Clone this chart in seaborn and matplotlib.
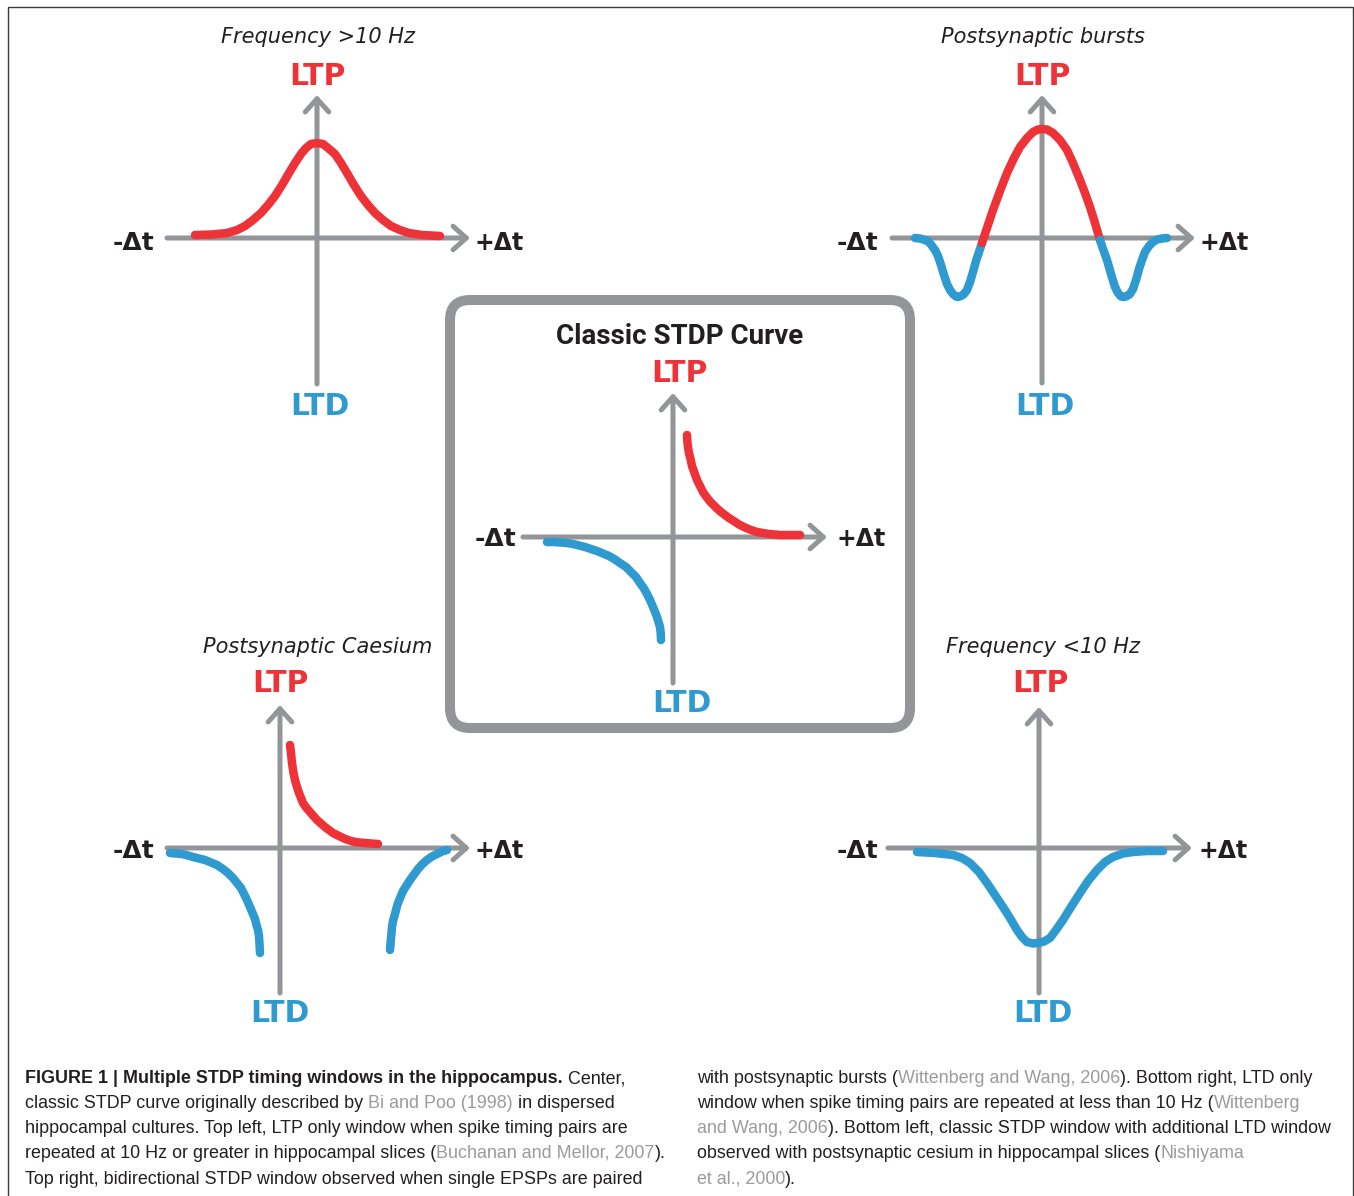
import matplotlib
matplotlib.use("Agg")
import matplotlib.pyplot as plt
import seaborn as sns
from matplotlib.patches import FancyBboxPatch, Rectangle
from matplotlib import font_manager

W, H = 1354, 1196
sns.set_theme(style="white")
plt.rcParams["font.family"] = ["DejaVu Sans"]

RED = "#EE3338"
BLUE = "#2F9AD0"
GRAY = "#939598"
INK = "#231F20"
CITE = "#9B9B9B"

# ---------------- data (Δt, weight change) ----------------
tl_dt = [-122, -105, -90, -80, -72, -64, -56, -49, -42, -35, -28, -22, -16, -11, -6, 0,
         6, 11, 18, 24, 30, 37, 44, 51, 58, 66, 74, 83, 92, 105, 123]
tl_w = [3, 3.5, 5, 8, 12, 18, 25, 33, 42, 53, 65, 75, 84, 90, 94, 95,
        94, 90, 84, 75, 65, 53, 42, 33, 25, 18, 12, 8, 5, 3, 2]

tr_ltd1_dt = [-127, -122, -117, -113, -110, -107, -104, -101, -98, -95, -92, -89, -86, -84,
              -81, -78, -75, -72, -69, -66, -63, -60]
tr_ltd1_w = [0, -0.5, -2, -4, -8, -12, -18, -27, -37, -46, -52, -56, -58.5, -59,
             -58, -56, -52, -44, -34, -23, -14, -5]
tr_ltp_dt = [-60, -55, -49, -42, -35, -28, -22, -15, -9, -4, 0, 5, 11, 18, 25, 31, 38, 43, 48, 53, 58]
tr_ltp_w = [-5, 10, 28, 47, 65, 80, 91, 100, 106, 108.5, 109, 108.5, 105, 98, 88, 75, 58, 45, 31, 15, -2]
tr_ltd2_dt = [58, 61, 65, 69, 73, 76, 79, 82, 85, 88, 91, 94, 97, 100, 103, 107, 111, 115, 120, 125]
tr_ltd2_w = [-2, -11, -22, -36, -49, -55, -58.5, -59, -58, -56, -51, -42, -31, -22, -14, -8, -4, -1.5, -0.5, 0]

c_ltp_dt = [14, 14.3, 15, 16, 17.5, 19, 21.5, 24, 27, 30, 33.5, 37, 40.5, 44, 48, 52, 56, 60,
            66, 72, 78, 84, 90, 96, 102, 107, 117, 127]
c_ltp_w = [102, 96, 90, 84, 78, 71, 64, 57, 51, 45, 40, 35.5, 32, 28.5, 25, 22, 19, 16.5,
           12.5, 9.5, 7, 5, 4, 3, 2.5, 2, 2, 2]
c_ltd_dt = [-126, -120, -113, -106, -100, -94, -88, -82, -76, -70, -64, -58, -53, -47, -42,
            -37, -33, -29, -26, -23, -20, -18, -16, -14.5, -13, -12.3, -12]
c_ltd_w = [-5, -5, -5.5, -6, -7, -8.5, -10, -12, -14, -16.5, -19, -22.5, -26, -30, -35,
           -40, -46, -51.5, -57, -63, -70, -75, -80, -85, -90, -96, -103]

bl_ltp_dt = [10, 10.5, 11, 12, 13.5, 15, 17, 19, 21, 23, 26.5, 30, 33.5, 37, 41, 45, 49, 53,
             58, 63, 68, 73, 79, 85, 91, 98]
bl_ltp_w = [103, 99, 95, 85, 75, 68, 61, 55, 50, 45, 40, 36, 32, 28, 24.5, 21, 18, 15,
            12.5, 10, 8, 6.5, 5.5, 5, 4.5, 4]
bl_ltd1_dt = [-110, -104, -98, -92, -87, -81, -75, -69, -63, -57, -52, -47, -43, -39, -36, -33,
              -30, -27.5, -25, -23.5, -22, -21, -20.5, -20]
bl_ltd1_w = [-5, -5.5, -6, -7.5, -9, -10.5, -12, -14.5, -17, -21, -25, -30, -35, -40, -46, -52,
             -59, -65, -71, -77, -82, -88, -96, -105]
bl_ltd2_dt = [110, 110.5, 111, 111.5, 112, 113, 115, 116.5, 118, 120.5, 123, 126.5, 130, 134,
              138, 142.5, 147, 152, 157, 162, 167]
bl_ltd2_w = [-102, -96, -90, -85, -79, -73, -66, -60, -55, -49, -43, -37.5, -32, -26.5,
             -21, -16, -12, -8.5, -6, -3.5, -2]

br_dt = [-122, -104, -86, -77, -69, -60, -52, -44, -36, -29, -22, -17, -12, -6, -1, 5, 11,
         17, 24, 32, 41, 49, 58, 66, 74, 84, 94, 108, 124]
br_w = [-4, -5, -7, -10, -15, -24, -35, -47, -59, -70, -82, -89, -94, -95.5, -95, -93.5, -90,
        -82, -72, -59, -45, -33, -22, -14, -9, -5.5, -4, -3, -3]

panel_titles = ["Frequency >10 Hz", "Postsynaptic bursts", "Classic STDP Curve",
                "Postsynaptic Caesium", "Frequency <10 Hz"]
ltp_label, ltd_label = "LTP", "LTD"
neg_label, pos_label = "-\u0394t", "+\u0394t"

curves = {
    "tl": [(tl_dt, tl_w, RED)],
    "tr": [(tr_ltd1_dt, tr_ltd1_w, BLUE), (tr_ltp_dt, tr_ltp_w, RED), (tr_ltd2_dt, tr_ltd2_w, BLUE)],
    "c": [(c_ltp_dt, c_ltp_w, RED), (c_ltd_dt, c_ltd_w, BLUE)],
    "bl": [(bl_ltp_dt, bl_ltp_w, RED), (bl_ltd1_dt, bl_ltd1_w, BLUE), (bl_ltd2_dt, bl_ltd2_w, BLUE)],
    "br": [(br_dt, br_w, BLUE)],
}

# ---------------- layout (pixel origins, extents, label offsets) ----------------
layout = [
    dict(key="tl", origin=(317, 238), h=(-150, 153), v=(-146, 143), title=(1, 201),
         ltp=(0, 161), ltd=(3, -169), neg=(-184, -5), pos=(182, -5)),
    dict(key="tr", origin=(1042, 238), h=(-150, 153), v=(-145, 143), title=(1, 201),
         ltp=(0, 161), ltd=(3, -169), neg=(-184, -5), pos=(182, -5)),
    dict(key="c", origin=(673, 537), h=(-150, 154), v=(-146, 144), title=(7, 201),
         ltp=(6, 164), ltd=(9, -166), neg=(-178, -2), pos=(188, -2)),
    dict(key="bl", origin=(280, 848), h=(-113, 190), v=(-145, 143), title=(38, 201),
         ltp=(0, 164), ltd=(0, -166), neg=(-147, -3), pos=(219, -3)),
    dict(key="br", origin=(1039, 848), h=(-151, 153), v=(-145, 141), title=(4, 201),
         ltp=(1, 164), ltd=(4, -166), neg=(-182, -3), pos=(184, -3)),
]

DPI = 100
fig = plt.figure(figsize=(W / DPI, H / DPI), dpi=DPI)
fig.patch.set_facecolor("white")

R = 260
PX = 0.72  # points per pixel at 100 dpi

for i, L in enumerate(layout):
    ox, oy = L["origin"]
    ax = fig.add_axes([(ox - R) / W, (H - oy - R) / H, 2 * R / W, 2 * R / H])
    ax.set_xlim(-R, R)
    ax.set_ylim(-R, R)
    ax.set_axis_off()
    ax.patch.set_alpha(0)

    arrow_kw = dict(arrowstyle="->,head_length=0.95,head_width=0.85", color=GRAY,
                    lw=5 * PX, shrinkA=0, shrinkB=0, mutation_scale=10, capstyle="round")
    ax.annotate("", xy=(L["h"][1], 0), xytext=(L["h"][0], 0), arrowprops=arrow_kw, zorder=1)
    ax.annotate("", xy=(0, L["v"][1]), xytext=(0, L["v"][0]), arrowprops=arrow_kw, zorder=1)

    for dt, w, col in curves[L["key"]]:
        sns.lineplot(x=dt, y=w, ax=ax, sort=False, estimator=None, color=col,
                     linewidth=8.5 * PX, solid_capstyle="round", solid_joinstyle="round", zorder=3)

    if L["key"] == "c":
        box = FancyBboxPatch((-223, -191), 460, 428, boxstyle="round,pad=0,rounding_size=20",
                             linewidth=10 * PX, edgecolor=GRAY, facecolor="none", zorder=0)
        ax.add_patch(box)
        ax.text(*L["title"], panel_titles[i], ha="center", va="center", fontsize=20,
                fontweight="bold", family=["Roboto", "DejaVu Sans"], color=INK)
    else:
        ax.text(*L["title"], panel_titles[i], ha="center", va="center", fontsize=15,
                style="italic", color=INK)

    ax.text(*L["ltp"], ltp_label, ha="center", va="center", fontsize=21.5,
            fontweight="bold", color=RED)
    ax.text(*L["ltd"], ltd_label, ha="center", va="center", fontsize=21.5,
            fontweight="bold", color=BLUE)
    ax.text(*L["neg"], neg_label, ha="center", va="center", fontsize=18,
            fontweight="bold", color=INK)
    ax.text(*L["pos"], pos_label, ha="center", va="center", fontsize=17,
            fontweight="bold", color=INK)

# frame line
fig.add_artist(Rectangle((8 / W, -0.02), (1353 - 8) / W, (H - 7) / H + 0.02,
                         transform=fig.transFigure, fill=False, edgecolor="#3A3A3A", lw=1.0))

# ---------------- caption ----------------
def pick_family():
    for fam in ["Liberation Sans Narrow", "Liberation Sans"]:
        try:
            font_manager.findfont(font_manager.FontProperties(family=fam), fallback_to_default=False)
            return fam
        except Exception:
            pass
    return "DejaVu Sans"

CAP_FAM = pick_family()
renderer = fig.canvas.get_renderer()

def text_width(s, size, weight):
    t1 = fig.text(0, 0, "a" + s + "a", fontsize=size, fontweight=weight, family=CAP_FAM)
    t2 = fig.text(0, 0, "aa", fontsize=size, fontweight=weight, family=CAP_FAM)
    wdt = t1.get_window_extent(renderer).width - t2.get_window_extent(renderer).width
    t1.remove(); t2.remove()
    return wdt

ref_line = "hippocampal cultures. Top left, LTP only window when spike timing pairs are"
CAP_SIZE = 12 * 603 / text_width(ref_line, 12, "normal")

left_col = [
    [("FIGURE 1 | Multiple STDP timing windows in the hippocampus.", INK, "bold"), (" Center,", INK, "normal")],
    [("classic STDP curve originally described by ", INK, "normal"), ("Bi and Poo (1998)", CITE, "normal"),
     (" in dispersed", INK, "normal")],
    [(ref_line, INK, "normal")],
    [("repeated at 10 Hz or greater in hippocampal slices (", INK, "normal"),
     ("Buchanan and Mellor, 2007", CITE, "normal"), (").", INK, "normal")],
    [("Top right, bidirectional STDP window observed when single EPSPs are paired", INK, "normal")],
]
right_col = [
    [("with postsynaptic bursts (", INK, "normal"), ("Wittenberg and Wang, 2006", CITE, "normal"),
     ("). Bottom right, LTD only", INK, "normal")],
    [("window when spike timing pairs are repeated at less than 10 Hz (", INK, "normal"),
     ("Wittenberg", CITE, "normal")],
    [("and Wang, 2006", CITE, "normal"), ("). Bottom left, classic STDP window with additional LTD window", INK, "normal")],
    [("observed with postsynaptic cesium in hippocampal slices (", INK, "normal"), ("Nishiyama", CITE, "normal")],
    [("et al., 2000", CITE, "normal"), (").", INK, "normal")],
]
line_base = [1083, 1108, 1133, 1158, 1184]

def rich_line(x, y, segs):
    for s, col, wt in segs:
        fig.text(x / W, 1 - y / H, s, fontsize=CAP_SIZE, fontweight=wt, family=CAP_FAM,
                 color=col, ha="left", va="baseline")
        x += text_width(s, CAP_SIZE, wt)

for y, segs in zip(line_base, left_col):
    rich_line(25, y, segs)
for y, segs in zip(line_base, right_col):
    rich_line(697, y, segs)

fig.savefig("out.png", dpi=DPI, facecolor="white")
